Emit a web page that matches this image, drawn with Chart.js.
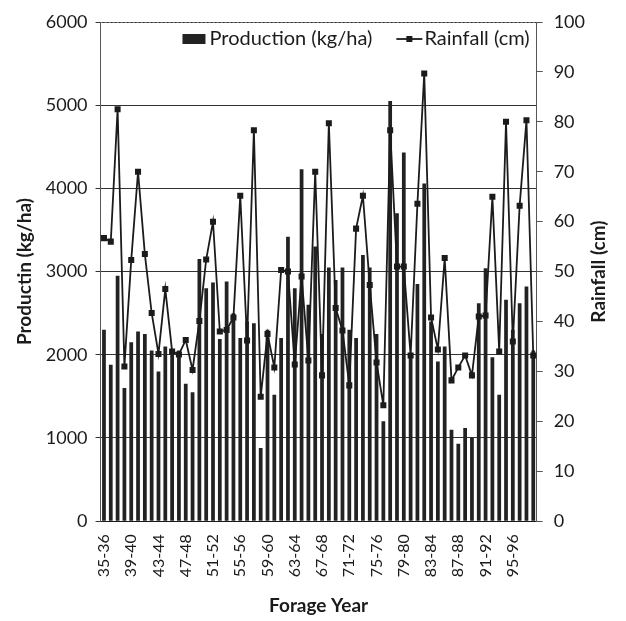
<!DOCTYPE html>
<html>
<head>
<meta charset="utf-8">
<script src="https://cdn.jsdelivr.net/npm/chart.js@4.4.0/dist/chart.umd.min.js"></script>
<style>
  html, body { margin: 0; padding: 0; background: #fff; }
  #wrap { width: 626px; height: 621px; }
</style>
</head>
<body>
<div id="wrap"><canvas id="chart" width="626" height="621"></canvas></div>
<script>
const years = [
  "35-36","36-37","37-38","38-39","39-40","40-41","41-42","42-43",
  "43-44","44-45","45-46","46-47","47-48","48-49","49-50","50-51",
  "51-52","52-53","53-54","54-55","55-56","56-57","57-58","58-59",
  "59-60","60-61","61-62","62-63","63-64","64-65","65-66","66-67",
  "67-68","68-69","69-70","70-71","71-72","72-73","73-74","74-75",
  "75-76","76-77","77-78","78-79","79-80","80-81","81-82","82-83",
  "83-84","84-85","85-86","86-87","87-88","88-89","89-90","90-91",
  "91-92","92-93","93-94","94-95","95-96","96-97","97-98","98-99"
];

// kg/ha
const production = [
  2300, 1880, 2950, 1600, 2150, 2280, 2250, 2050,
  1800, 2100, 2000, 2050, 1650, 1550, 3150, 2800,
  2870, 2190, 2880, 2500, 2200, 2400, 2380, 880,
  2300, 1520, 2200, 3420, 2800, 4230, 2600, 3300,
  2250, 3050, 2900, 3050, 2300, 2200, 3200, 3050,
  2250, 1200, 5050, 3700, 4430, 2000, 2850, 4060,
  2400, 1920, 2100, 1100, 930, 1120, 1000, 2620,
  3040, 1970, 1520, 2660, 2300, 2620, 2820, 2050
];

// cm
const rainfall = [
  56.7, 56, 82.5, 31, 52.3, 70, 53.5, 41.7,
  33.5, 46.5, 34, 33.4, 36.3, 30.3, 40.1, 52.4,
  60, 38, 38.3, 40.8, 65.2, 36.2, 78.3, 24.9,
  37.5, 30.8, 50.3, 50, 31.4, 49, 32.2, 70,
  29.2, 79.7, 42.7, 38.2, 27.2, 58.6, 65.2, 47.3,
  31.8, 23.2, 78.3, 51, 51, 33.2, 63.6, 89.7,
  40.8, 34.4, 52.7, 28.2, 30.8, 33.2, 29.2, 41,
  41.2, 65, 34, 80, 36, 63.2, 80.3, 33.2
];

const prodTicks = [0, 1000, 2000, 3000, 4000, 5000, 6000];
const rainTicks = [0, 10, 20, 30, 40, 50, 60, 70, 80, 90, 100];

const FONT = "Lato, 'Open Sans', sans-serif";
const INK = "#1b1b1b";

// dotted top edge, legend inside the plot, right-hand title reading upwards
const extras = {
  id: "extras",
  afterDraw(chart) {
    const a = chart.chartArea, ctx = chart.ctx;
    ctx.save();
    ctx.strokeStyle = "#777";
    ctx.lineWidth = 1;
    ctx.setLineDash([2, 2]);
    ctx.beginPath();
    ctx.moveTo(a.left, a.top + 0.5);
    ctx.lineTo(a.right, a.top + 0.5);
    ctx.stroke();
    ctx.setLineDash([]);

    // legend
    const ds = chart.data.datasets;
    ctx.font = "20px " + FONT;
    ctx.fillStyle = INK;
    ctx.textBaseline = "middle";
    const ly = a.top + 17;
    const rainLabel = ds[0].label, prodLabel = ds[1].label;
    const rainW = ctx.measureText(rainLabel).width;
    const prodW = ctx.measureText(prodLabel).width;
    let x = a.right - 7 - rainW;
    ctx.fillText(rainLabel, x, ly);
    x -= 28;
    ctx.strokeStyle = INK;
    ctx.lineWidth = 1.8;
    ctx.beginPath(); ctx.moveTo(x, ly); ctx.lineTo(x + 26, ly); ctx.stroke();
    ctx.fillRect(x + 10, ly - 3, 6, 6);
    x -= 24 + prodW;
    ctx.fillText(prodLabel, x, ly);
    ctx.fillStyle = "#222";
    ctx.fillRect(x - 27, ly - 5, 23, 10);

    // right axis title
    const y1 = chart.scales.y1;
    ctx.fillStyle = INK;
    ctx.font = "bold 19px " + FONT;
    ctx.textAlign = "center";
    ctx.translate(599, (y1.top + y1.bottom) / 2);
    ctx.rotate(-Math.PI / 2);
    ctx.fillText("Rainfall (cm)", 0, 0);
    ctx.restore();
  }
};

new Chart(document.getElementById("chart"), {
  data: {
    labels: years,
    datasets: [
      {
        type: "line",
        label: "Rainfall (cm)",
        data: rainfall,
        yAxisID: "y1",
        borderColor: INK,
        backgroundColor: INK,
        borderWidth: 1.8,
        pointStyle: "rect",
        pointRadius: 3,
        tension: 0,
        order: 0
      },
      {
        type: "bar",
        label: "Production (kg/ha)",
        data: production,
        yAxisID: "y",
        backgroundColor: "#222",
        barPercentage: 0.55,
        categoryPercentage: 1,
        order: 1
      }
    ]
  },
  plugins: [extras],
  options: {
    responsive: false,
    animation: false,
    layout: { padding: { left: 9, right: 30, top: 22, bottom: 4 } },
    plugins: {
      legend: { display: false },
      tooltip: { enabled: false }
    },
    scales: {
      x: {
        offset: true,
        grid: { display: false },
        border: { color: INK, width: 1 },
        ticks: {
          autoSkip: false,
          minRotation: 90,
          maxRotation: 90,
          color: INK,
          font: { family: FONT, size: 16 },
          padding: 5,
          callback(v, i) { return i % 4 === 0 ? years[i] : ""; }
        },
        title: {
          display: true,
          text: "Forage Year",
          color: INK,
          font: { family: FONT, size: 19, weight: "bold" },
          padding: { top: 12, bottom: 0 }
        }
      },
      y: {
        position: "left",
        min: prodTicks[0],
        max: prodTicks[prodTicks.length - 1],
        afterBuildTicks(axis) { axis.ticks = prodTicks.map(v => ({ value: v })); },
        grid: { color: "#333", lineWidth: 1, tickLength: 5 },
        border: { color: "#555", width: 1 },
        ticks: {
          color: INK,
          font: { family: FONT, size: 18 },
          padding: 8,
          callback(v) { return String(v); }
        },
        title: {
          display: true,
          text: "Productin (kg/ha)",
          color: INK,
          font: { family: FONT, size: 19, weight: "bold" },
          padding: { bottom: 2 }
        }
      },
      y1: {
        position: "right",
        min: rainTicks[0],
        max: rainTicks[rainTicks.length - 1],
        afterBuildTicks(axis) { axis.ticks = rainTicks.map(v => ({ value: v })); },
        grid: { drawOnChartArea: false, color: "#555", tickLength: 6 },
        border: { color: "#555", width: 1 },
        ticks: {
          color: INK,
          font: { family: FONT, size: 18 },
          padding: 11,
          callback(v) { return String(v); }
        }
      }
    }
  }
});
</script>
</body>
</html>
